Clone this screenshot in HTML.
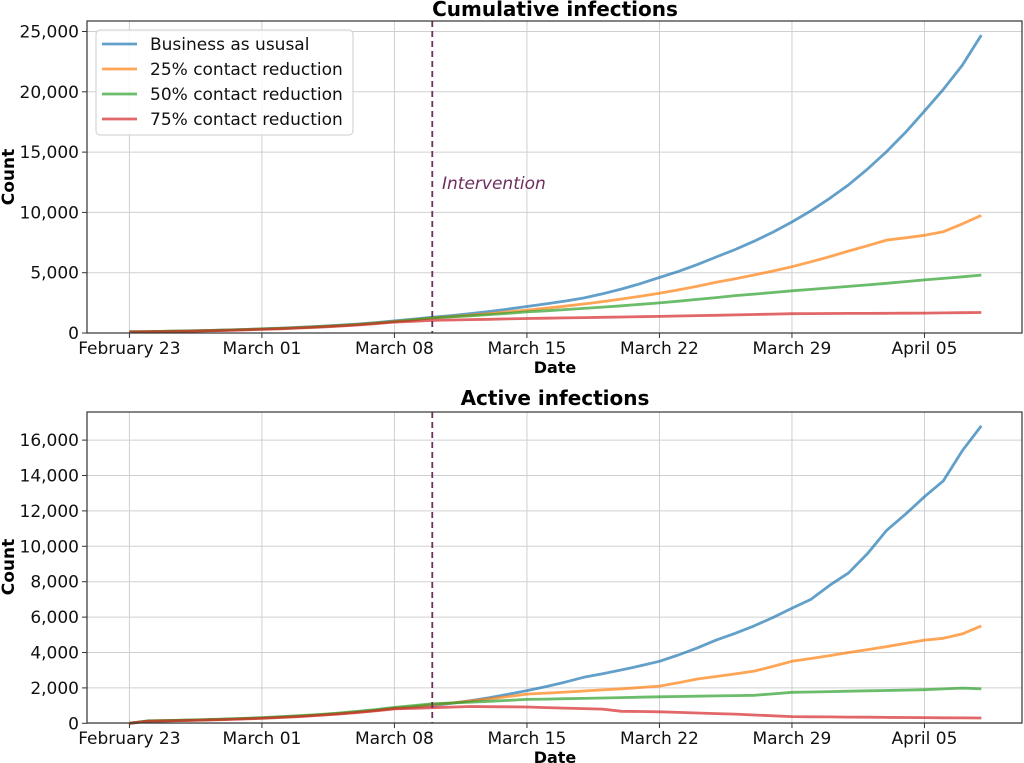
<!DOCTYPE html>
<html><head><meta charset="utf-8"><style>
html,body{margin:0;padding:0;background:#fff}
svg{display:block;font-family:"DejaVu Sans","Liberation Sans",sans-serif}
</style></head><body>
<svg id="s" width="1024" height="763" viewBox="0 0 1024 763" xmlns="http://www.w3.org/2000/svg">
<rect width="1024" height="763" fill="#fff"/>
<g id="g"></g>
<text x="555" y="16" font-size="20" font-weight="bold" text-anchor="middle">Cumulative infections</text>
<text x="555" y="405" font-size="20" font-weight="bold" text-anchor="middle">Active infections</text>
<text x="555" y="373" font-size="16" font-weight="bold" text-anchor="middle">Date</text>
<text x="555" y="763" font-size="16" font-weight="bold" text-anchor="middle">Date</text>
<text transform="translate(14,177) rotate(-90)" font-size="17" font-weight="bold" text-anchor="middle">Count</text>
<text transform="translate(14,567) rotate(-90)" font-size="17" font-weight="bold" text-anchor="middle">Count</text>
<text x="442" y="189" font-size="17" font-style="italic" fill="#6e2e5e">Intervention</text>
</svg>
<script>
const NS="http://www.w3.org/2000/svg",g=document.getElementById('g');
function el(t,a,txt){const e=document.createElementNS(NS,t);for(const k in a)e.setAttribute(k,a[k]);if(txt!==undefined)e.textContent=txt;g.appendChild(e);return e;}
const X=d=>129.4+18.93*d;
const L=87,R=1022;
const labels=["February 23","March 01","March 08","March 15","March 22","March 29","April 05"];
const cols=["#1f77b4","#ff7f0e","#2ca02c","#d62728"];
function interp(pts){const out=[];for(let d=0;d<=45;d++){for(let i=0;i<pts.length-1;i++){const[a,va]=pts[i],[b,vb]=pts[i+1];if(d>=a&&d<=b){const t=(d-a)/(b-a);let v;if(va>0&&vb>0)v=va*Math.pow(vb/va,t);else v=va+(vb-va)*t;out.push([d,v]);break;}}}return out;}
function panel(top,bot,zeroY,pxPer,ticks,fmt,series){
 for(const t of ticks){const y=zeroY-t*pxPer;el('line',{x1:L,x2:R,y1:y,y2:y,stroke:"#d0d0d0","stroke-width":1});el('line',{x1:L-5,x2:L,y1:y,y2:y,stroke:"#333"});el('text',{x:L-8,y:y+6,"font-size":17,"text-anchor":"end",fill:"#111"},fmt(t));}
 for(let i=0;i<7;i++){const x=X(7*i);el('line',{x1:x,x2:x,y1:top,y2:bot,stroke:"#d0d0d0"});el('line',{x1:x,x2:x,y1:bot,y2:bot+5,stroke:"#333"});el('text',{x:x,y:bot+21,"font-size":17,"text-anchor":"middle",fill:"#111"},labels[i]);}
 series.forEach((p,i)=>{const pts=interp(p).map(([d,v])=>X(d).toFixed(1)+","+(zeroY-v*pxPer).toFixed(1)).join(" ");el('polyline',{points:pts,fill:"none",stroke:cols[i],"stroke-opacity":0.7,"stroke-width":2.8,"stroke-linejoin":"round"});});
 el('line',{x1:X(16),x2:X(16),y1:top,y2:bot,stroke:"#6e2e5e","stroke-width":1.8,"stroke-dasharray":"6,4"});
 el('rect',{x:L,y:top,width:R-L,height:bot-top,fill:"none",stroke:"#333","stroke-width":1.2});
}
const f=n=>n.toLocaleString('en-US');
panel(21,333,333,60.3/5000,[0,5000,10000,15000,20000,25000],f,[
 [[0,100],[7,350],[14,1000],[16,1300],[21,2200],[24,2900],[28,4600],[31,6300],[35,9200],[38,12300],[42,18400],[44,22200],[45,24700]],
 [[0,100],[7,330],[14,950],[16,1250],[21,1900],[28,3300],[31,4200],[35,5500],[38,6800],[40,7700],[42,8100],[43,8400],[45,9750]],
 [[0,100],[7,330],[14,950],[16,1250],[21,1750],[28,2500],[32,3100],[35,3500],[42,4400],[45,4800]],
 [[0,80],[7,300],[14,900],[16,1050],[21,1200],[28,1380],[35,1600],[42,1650],[45,1700]]
]);
panel(412,723,723.3,35.4/2000,[0,2000,4000,6000,8000,10000,12000,14000,16000],f,[
 [[0,0],[1,130],[7,300],[14,850],[16,1000],[21,1850],[24,2600],[28,3500],[31,4700],[33,5500],[35,6500],[36,7000],[37,7800],[38,8500],[39,9600],[40,10900],[42,12800],[43,13700],[44,15400],[45,16800]],
 [[0,0],[1,130],[7,300],[14,850],[16,1050],[21,1650],[26,1950],[28,2100],[30,2500],[33,2950],[35,3500],[38,4000],[42,4700],[43,4800],[44,5050],[45,5500]],
 [[0,0],[1,140],[7,320],[14,900],[16,1100],[21,1350],[26,1450],[28,1500],[33,1580],[35,1750],[42,1900],[44,1990],[45,1950]],
 [[0,0],[1,120],[7,280],[14,820],[16,880],[18,950],[21,920],[25,800],[26,680],[28,650],[32,520],[35,380],[38,350],[42,320],[45,300]]
]);
el('rect',{x:96,y:30,width:257,height:105,rx:4,fill:"#fff","fill-opacity":0.85,stroke:"#ccc"});
const names=["Business as ususal","25% contact reduction","50% contact reduction","75% contact reduction"];
names.forEach((n,i)=>{const y=44+25*i;el('line',{x1:102,x2:137,y1:y,y2:y,stroke:cols[i],"stroke-opacity":0.7,"stroke-width":2.8});el('text',{x:150,y:y+6,"font-size":17,fill:"#111"},n);});
</script>
</body></html>
